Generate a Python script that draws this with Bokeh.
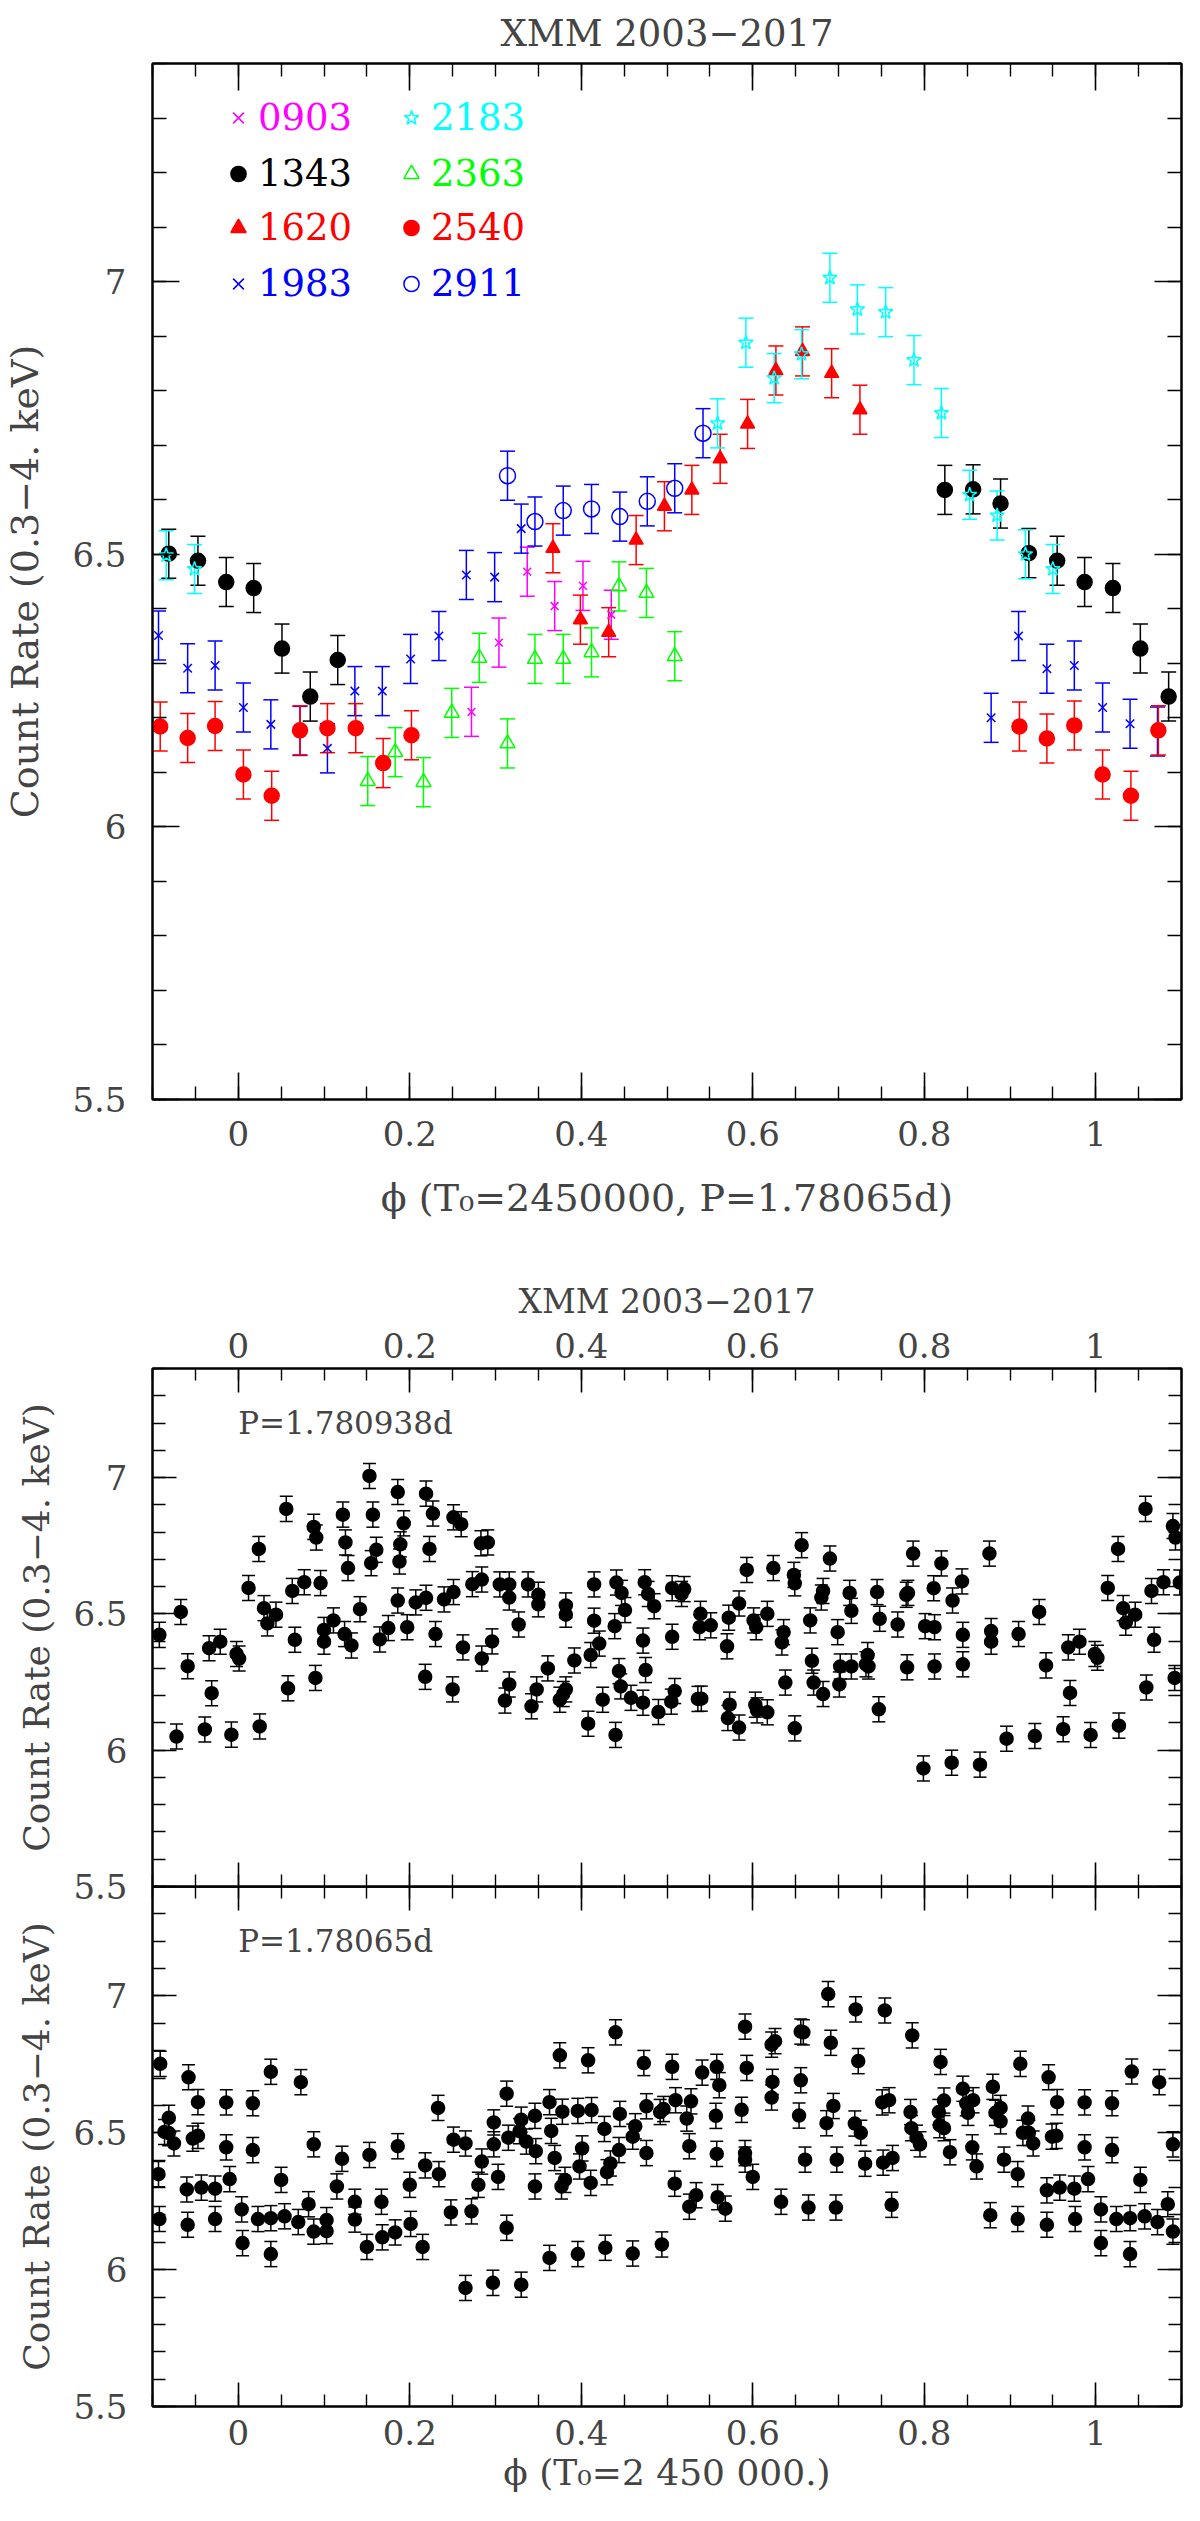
from bokeh.embed import file_html
from bokeh.layouts import column
from bokeh.models import (ColumnDataSource, CustomJSTickFormatter, Label, Legend,
                          LegendItem, LinearAxis, Range1d, SingleIntervalTicker,
                          TeeHead, Whisker)
from bokeh.plotting import figure
from bokeh.resources import INLINE

FONT = "DejaVu Serif"

# --- top panel: folded light curves per observation (P=1.78065d) -------------
OBS_0903_PHASE = [0.272, 0.304, 0.337, 0.369, 0.402, 0.435]
OBS_0903_RATE = [6.211, 6.338, 6.468, 6.405, 6.442, 6.389]

OBS_1343_PHASE = [-0.081, -0.047, -0.014, 0.018, 0.051, 0.084, 0.116, 0.824,
                  0.857, 0.889, 0.922, 0.955, 0.987, 1.020, 1.052, 1.085]
OBS_1343_RATE = [6.501, 6.488, 6.449, 6.438, 6.327, 6.239, 6.306, 6.618,
                 6.619, 6.593, 6.502, 6.488, 6.449, 6.438, 6.327, 6.239]

OBS_1620_PHASE = [0.367, 0.399, 0.432, 0.464, 0.497, 0.529, 0.562, 0.594,
                  0.627, 0.658, 0.692, 0.725]
OBS_1620_RATE = [6.511, 6.380, 6.357, 6.526, 6.588, 6.618, 6.675, 6.739,
                 6.837, 6.872, 6.832, 6.765]

OBS_1983_PHASE = [-0.093, -0.059, -0.027, 0.006, 0.038, 0.072, 0.104, 0.136,
                  0.168, 0.201, 0.234, 0.266, 0.299, 0.330, 0.878, 0.910,
                  0.943, 0.975, 1.008, 1.040, 1.072]
OBS_1983_RATE = [6.351, 6.291, 6.296, 6.219, 6.188, 6.176, 6.144, 6.249,
                 6.249, 6.308, 6.350, 6.462, 6.458, 6.547, 6.200, 6.350,
                 6.290, 6.296, 6.219, 6.189, 6.175]

OBS_2183_PHASE = [-0.084, -0.051, 0.559, 0.592, 0.625, 0.657, 0.690, 0.722,
                  0.755, 0.788, 0.820, 0.853, 0.885, 0.918, 0.950]
OBS_2183_RATE = [6.498, 6.473, 6.740, 6.888, 6.823, 6.867, 7.007, 6.949,
                 6.944, 6.856, 6.759, 6.609, 6.571, 6.500, 6.473]

OBS_2363_PHASE = [0.151, 0.183, 0.216, 0.249, 0.281, 0.314, 0.346, 0.379,
                  0.412, 0.444, 0.476, 0.509]
OBS_2363_RATE = [6.084, 6.137, 6.082, 6.209, 6.310, 6.153, 6.308, 6.308,
                 6.320, 6.441, 6.429, 6.313]

OBS_2540_PHASE = [-0.091, -0.059, -0.027, 0.006, 0.039, 0.072, 0.104, 0.137,
                  0.169, 0.202, 0.911, 0.943, 0.975, 1.008, 1.041, 1.073]
OBS_2540_RATE = [6.184, 6.163, 6.185, 6.096, 6.057, 6.177, 6.181, 6.181,
                 6.117, 6.168, 6.184, 6.162, 6.186, 6.096, 6.057, 6.177]

OBS_2911_PHASE = [0.314, 0.346, 0.379, 0.412, 0.445, 0.477, 0.509, 0.542]
OBS_2911_RATE = [6.644, 6.560, 6.580, 6.583, 6.569, 6.597, 6.621, 6.722]

TOP_ERR = 0.045

# --- lower panels: all observations folded with two trial periods ------------
FOLD_938_PHASE = [
    -0.092, -0.072, -0.067, -0.059, -0.039, -0.034, -0.031, -0.021, -0.008, -0.002,
    0.001, 0.012, 0.024, 0.025, 0.030, 0.034, 0.044, 0.056, 0.058, 0.063,
    0.066, 0.077, 0.088, 0.091, 0.090, 0.096, 0.100, 0.100, 0.111, 0.122,
    0.125, 0.124, 0.128, 0.132, 0.142, 0.153, 0.155, 0.157, 0.161, 0.165,
    0.175, 0.186, 0.189, 0.188, 0.186, 0.193, 0.197, 0.207, 0.218, 0.219,
    0.223, 0.227, 0.219, 0.230, 0.240, 0.251, 0.250, 0.251, 0.260, 0.262,
    0.273, 0.283, 0.284, 0.284, 0.291, 0.296, 0.305, 0.311, 0.316, 0.316,
    0.316, 0.327, 0.338, 0.342, 0.348, 0.350, 0.350, 0.361, 0.375, 0.379,
    0.382, 0.382, 0.382, 0.392, 0.408, 0.411, 0.415, 0.415, 0.421, 0.425,
    0.440, 0.439, 0.441, 0.444, 0.446, 0.447, 0.451, 0.458, 0.472, 0.472,
    0.474, 0.475, 0.478, 0.485, 0.490, 0.505, 0.506, 0.506, 0.509, 0.517,
    0.520, 0.536, 0.538, 0.539, 0.540, 0.551, 0.570, 0.571, 0.572, 0.573,
    0.584, 0.584, 0.593, 0.601, 0.604, 0.603, 0.605, 0.617, 0.617, 0.624,
    0.634, 0.636, 0.638, 0.648, 0.649, 0.649, 0.657, 0.667, 0.669, 0.671,
    0.680, 0.682, 0.682, 0.690, 0.699, 0.701, 0.702, 0.713, 0.715, 0.715,
    0.732, 0.734, 0.735, 0.745, 0.748, 0.747, 0.769, 0.779, 0.780, 0.781,
    0.787, 0.799, 0.801, 0.812, 0.812, 0.811, 0.820, 0.832, 0.833, 0.844,
    0.845, 0.845, 0.865, 0.876, 0.878, 0.878, 0.896, 0.910, 0.929, 0.934,
    0.942, 0.962, 0.968, 0.970, 0.981, 0.994, 0.999, 1.002, 1.014, 1.026,
    1.027, 1.032, 1.035, 1.046, 1.058, 1.059, 1.065, 1.068, 1.079, 1.090,
    1.093, 1.092, 1.098,
]
FOLD_938_RATE = [
    6.423, 6.050, 6.507, 6.308, 6.076, 6.374, 6.209, 6.398, 6.057, 6.353,
    6.336, 6.595, 6.738, 6.087, 6.521, 6.465, 6.497, 6.885, 6.227, 6.584,
    6.405, 6.616, 6.819, 6.780, 6.265, 6.613, 6.441, 6.398, 6.476, 6.864,
    6.762, 6.426, 6.668, 6.384, 6.517, 7.006, 6.686, 6.864, 6.735, 6.406,
    6.448, 6.947, 6.755, 6.692, 6.549, 6.832, 6.451, 6.542, 6.269, 6.941,
    6.738, 6.868, 6.559, 6.426, 6.553, 6.854, 6.223, 6.580, 6.829, 6.377,
    6.609, 6.759, 6.626, 6.336, 6.762, 6.399, 6.608, 6.182, 6.241, 6.608,
    6.560, 6.461, 6.608, 6.161, 6.223, 6.570, 6.535, 6.300, 6.185, 6.206,
    6.223, 6.531, 6.497, 6.329, 6.097, 6.349, 6.608, 6.475, 6.391, 6.185,
    6.056, 6.455, 6.615, 6.290, 6.234, 6.577, 6.514, 6.192, 6.402, 6.174,
    6.616, 6.294, 6.573, 6.528, 6.140, 6.178, 6.416, 6.594, 6.217, 6.573,
    6.591, 6.188, 6.451, 6.500, 6.189, 6.458, 6.381, 6.118, 6.486, 6.167,
    6.538, 6.083, 6.661, 6.476, 6.451, 6.167, 6.146, 6.139, 6.500, 6.668,
    6.395, 6.433, 6.248, 6.643, 6.612, 6.080, 6.752, 6.476, 6.328, 6.248,
    6.560, 6.584, 6.206, 6.703, 6.433, 6.241, 6.307, 6.577, 6.511, 6.307,
    6.315, 6.349, 6.307, 6.580, 6.482, 6.150, 6.461, 6.570, 6.304, 6.577,
    6.721, 5.933, 6.455, 6.451, 6.307, 6.594, 6.685, 5.954, 6.549, 6.619,
    6.423, 6.315, 5.947, 6.721, 6.437, 6.398, 6.042, 6.426, 6.052, 6.507,
    6.311, 6.077, 6.377, 6.210, 6.398, 6.056, 6.353, 6.339, 6.595, 6.738,
    6.090, 6.521, 6.468, 6.497, 6.885, 6.230, 6.584, 6.405, 6.616, 6.822,
    6.780, 6.265, 6.615,
]

FOLD_065_PHASE = [
    -0.091, -0.093, -0.092, -0.086, -0.081, -0.081, -0.075, -0.058, -0.060, -0.059,
    -0.053, -0.047, -0.047, -0.043, -0.027, -0.027, -0.014, -0.014, -0.010, 0.004,
    0.005, 0.017, 0.017, 0.023, 0.038, 0.038, 0.038, 0.050, 0.054, 0.073,
    0.070, 0.082, 0.088, 0.088, 0.103, 0.103, 0.115, 0.121, 0.136, 0.136,
    0.150, 0.153, 0.167, 0.168, 0.183, 0.186, 0.200, 0.201, 0.215, 0.218,
    0.233, 0.234, 0.248, 0.251, 0.265, 0.265, 0.272, 0.280, 0.284, 0.297,
    0.298, 0.298, 0.303, 0.313, 0.315, 0.313, 0.330, 0.330, 0.328, 0.336,
    0.346, 0.347, 0.346, 0.363, 0.363, 0.365, 0.369, 0.375, 0.378, 0.377,
    0.381, 0.396, 0.396, 0.398, 0.401, 0.408, 0.411, 0.412, 0.427, 0.428,
    0.430, 0.434, 0.440, 0.444, 0.445, 0.460, 0.460, 0.463, 0.473, 0.476,
    0.476, 0.492, 0.494, 0.496, 0.506, 0.509, 0.510, 0.523, 0.526, 0.526,
    0.528, 0.534, 0.541, 0.557, 0.558, 0.558, 0.559, 0.561, 0.568, 0.587,
    0.591, 0.593, 0.591, 0.591, 0.600, 0.623, 0.622, 0.626, 0.622, 0.633,
    0.654, 0.656, 0.656, 0.659, 0.661, 0.665, 0.688, 0.691, 0.694, 0.686,
    0.698, 0.697, 0.720, 0.719, 0.723, 0.726, 0.731, 0.754, 0.751, 0.759,
    0.752, 0.763, 0.762, 0.786, 0.784, 0.785, 0.791, 0.795, 0.819, 0.817,
    0.823, 0.818, 0.823, 0.830, 0.845, 0.849, 0.857, 0.851, 0.856, 0.861,
    0.877, 0.880, 0.883, 0.889, 0.889, 0.893, 0.909, 0.909, 0.912, 0.915,
    0.921, 0.922, 0.927, 0.943, 0.943, 0.945, 0.949, 0.954, 0.955, 0.958,
    0.975, 0.976, 0.987, 0.987, 0.991, 1.006, 1.006, 1.019, 1.019, 1.024,
    1.040, 1.040, 1.042, 1.052, 1.057, 1.074, 1.072, 1.084, 1.090, 1.090,
]
FOLD_065_RATE = [
    6.752, 6.349, 6.185, 6.503, 6.555, 6.499, 6.461, 6.703, 6.293, 6.164,
    6.479, 6.489, 6.612, 6.300, 6.296, 6.185, 6.611, 6.447, 6.331, 6.220,
    6.097, 6.608, 6.437, 6.185, 6.723, 6.188, 6.057, 6.328, 6.195, 6.685,
    6.174, 6.239, 6.458, 6.139, 6.141, 6.181, 6.304, 6.405, 6.248, 6.183,
    6.083, 6.419, 6.248, 6.118, 6.136, 6.451, 6.310, 6.167, 6.083, 6.381,
    6.591, 6.349, 6.209, 6.475, 5.933, 6.461, 6.213, 6.310, 6.395, 5.952,
    6.538, 6.458, 6.339, 6.643, 6.482, 6.153, 6.548, 5.945, 6.506, 6.468,
    6.562, 6.433, 6.304, 6.043, 6.612, 6.507, 6.408, 6.783, 6.577, 6.304,
    6.328, 6.057, 6.580, 6.377, 6.443, 6.765, 6.317, 6.583, 6.514, 6.080,
    6.356, 6.388, 6.867, 6.437, 6.569, 6.486, 6.059, 6.524, 6.755, 6.426,
    6.597, 6.576, 6.092, 6.587, 6.741, 6.314, 6.619, 6.552, 6.451, 6.230,
    6.615, 6.272, 6.720, 6.562, 6.741, 6.423, 6.265, 6.674, 6.223, 6.584,
    6.888, 6.737, 6.426, 6.402, 6.339, 6.686, 6.822, 6.835, 6.629, 6.248,
    6.563, 6.692, 6.870, 6.867, 6.402, 6.227, 7.007, 6.829, 6.598, 6.535,
    6.402, 6.227, 6.951, 6.534, 6.762, 6.500, 6.387, 6.947, 6.611, 6.619,
    6.391, 6.408, 6.237, 6.856, 6.576, 6.517, 6.482, 6.458, 6.759, 6.576,
    6.618, 6.528, 6.517, 6.429, 6.661, 6.608, 6.619, 6.573, 6.447, 6.377,
    6.199, 6.668, 6.573, 6.591, 6.542, 6.402, 6.349, 6.185, 6.752, 6.500,
    6.552, 6.500, 6.461, 6.290, 6.164, 6.703, 6.486, 6.489, 6.612, 6.300,
    6.296, 6.185, 6.611, 6.447, 6.331, 6.220, 6.097, 6.608, 6.437, 6.185,
    6.188, 6.057, 6.724, 6.328, 6.195, 6.685, 6.174, 6.239, 6.458, 6.139,
]
FOLD_ERR = 0.046

PHASE_RANGE = (-0.1, 1.1)
RATE_RANGE = (5.5, 7.4)
Y_LABEL = "Count Rate (0.3\u22124. keV)"
TITLE = "XMM 2003\u22122017"

LABEL_FMT = "return String(Math.round(tick * 10) / 10);"


def dress_axis(ax, is_x, major_len, minor_len, labels, size="34px"):
    if is_x:
        ax.ticker = SingleIntervalTicker(interval=0.2, num_minor_ticks=4)
    else:
        ax.ticker = SingleIntervalTicker(interval=0.5, num_minor_ticks=5)
    ax.major_tick_in = major_len
    ax.major_tick_out = 0
    ax.minor_tick_in = minor_len
    ax.minor_tick_out = 0
    ax.axis_line_width = 2
    ax.major_tick_line_width = 1.6
    ax.minor_tick_line_width = 1.4
    ax.major_label_text_font = FONT
    ax.axis_label_text_font = FONT
    ax.axis_label_text_font_style = "normal"
    if labels:
        ax.formatter = CustomJSTickFormatter(code=LABEL_FMT)
        ax.major_label_text_font_size = size
    else:
        ax.formatter = CustomJSTickFormatter(code="return '';")
        ax.major_label_text_font_size = "0px"
        ax.major_label_standoff = 0


def new_panel(labelled, major, minor, **kw):
    """A boxed panel with inward ticks on all four sides; returns (fig, axes)."""
    p = figure(x_range=Range1d(*PHASE_RANGE), y_range=Range1d(*RATE_RANGE),
               x_axis_location=None, y_axis_location=None,
               output_backend="svg", toolbar_location=None, **kw)
    p.xgrid.visible = False
    p.ygrid.visible = False
    p.outline_line_color = "black"
    p.outline_line_width = 2
    axes = {}
    for side in ("below", "above", "left", "right"):
        ax = LinearAxis()
        is_x = side in ("below", "above")
        dress_axis(ax, is_x, major, minor if is_x else minor + 1, side in labelled)
        p.add_layout(ax, side)
        axes[side] = ax
    return p, axes


def error_points(p, xs, ys, err, color, marker, size, filled, cap, lw=1.5):
    src = ColumnDataSource(dict(x=xs, y=ys, lo=[v - err for v in ys],
                                hi=[v + err for v in ys]))
    p.add_layout(Whisker(source=src, base="x", lower="lo", upper="hi",
                         line_color=color, line_width=lw,
                         lower_head=TeeHead(size=cap, line_color=color, line_width=lw),
                         upper_head=TeeHead(size=cap, line_color=color, line_width=lw)))
    return p.scatter("x", "y", source=src, marker=marker, size=size,
                     line_color=color, line_width=lw,
                     fill_color=color if filled else None)


def set_title(p, size, standoff):
    p.title.text = TITLE
    p.title.text_font = FONT
    p.title.text_font_size = size
    p.title.text_font_style = "normal"
    p.title.align = "center"
    p.title.standoff = standoff


# ---------------------------------------------------------------- top panel
top, tax = new_panel(("below", "left"), 27, 13, width=1190, height=1242,
                     min_border_left=149, min_border_right=2,
                     min_border_top=61, min_border_bottom=143)
set_title(top, "37px", 18)
tax["below"].axis_label = "\u03d5 (T\u2080=2450000, P=1.78065d)"
tax["below"].axis_label_text_font_size = "38px"
tax["below"].major_label_standoff = 21
tax["below"].axis_label_standoff = 27
tax["left"].axis_label = Y_LABEL
tax["left"].axis_label_text_font_size = "38px"
tax["left"].major_label_standoff = 26
tax["left"].axis_label_standoff = 22

series = [
    ("0903", OBS_0903_PHASE, OBS_0903_RATE, "#ff00ff", "x", 11, False),
    ("1343", OBS_1343_PHASE, OBS_1343_RATE, "black", "circle", 15, True),
    ("1620", OBS_1620_PHASE, OBS_1620_RATE, "#ff0000", "triangle", 14, True),
    ("1983", OBS_1983_PHASE, OBS_1983_RATE, "#0000ff", "x", 12, False),
    ("2183", OBS_2183_PHASE, OBS_2183_RATE, "#00ffff", "star", 15, False),
    ("2363", OBS_2363_PHASE, OBS_2363_RATE, "#00ff00", "triangle", 15, False),
    ("2540", OBS_2540_PHASE, OBS_2540_RATE, "#ff0000", "circle", 15, True),
    ("2911", OBS_2911_PHASE, OBS_2911_RATE, "#0000ff", "circle", 16, False),
]
# legend slots: bottom-left corner in frame pixels, two columns of four
slots = [(67, 960), (67, 904), (67, 850), (67, 794),
         (240, 960), (240, 904), (240, 850), (240, 794)]
for (name, xs, ys, color, marker, size, filled), loc in zip(series, slots):
    r = error_points(top, xs, ys, TOP_ERR, color, marker, size, filled, 15)
    top.add_layout(Legend(items=[LegendItem(label=name, renderers=[r])],
                          location=loc, label_text_color=color,
                          label_text_font=FONT, label_text_font_size="37px",
                          glyph_width=38, glyph_height=43, label_standoff=1,
                          padding=0, margin=0, border_line_color=None,
                          background_fill_color=None))

# ------------------------------------------------- middle panel (P=1.780938d)
mid, max_ = new_panel(("above", "left"), 24, 12, width=1190, height=664,
                      min_border_left=143, min_border_right=9,
                      min_border_top=126, min_border_bottom=20)
set_title(mid, "33px", 18)
max_["above"].major_label_standoff = 11
max_["left"].axis_label = Y_LABEL
max_["left"].axis_label_text_font_size = "36px"
max_["left"].major_label_standoff = 25
max_["left"].axis_label_standoff = 13
error_points(mid, FOLD_938_PHASE, FOLD_938_RATE, FOLD_ERR, "black", "circle", 13, True, 13)
mid.add_layout(Label(x=0, y=7.2, text="P=1.780938d", text_font=FONT,
                     text_font_size="31px", text_baseline="alphabetic"))

# ------------------------------------------------- bottom panel (P=1.78065d)
bot, bax = new_panel(("below", "left"), 24, 12, width=1190, height=619,
                     margin=(-20, 0, 0, 0),
                     min_border_left=143, min_border_right=9,
                     min_border_top=0, min_border_bottom=99)
bot.background_fill_color = None
bot.border_fill_color = None
bax["below"].axis_label = "\u03d5 (T\u2080=2 450 000.)"
bax["below"].axis_label_text_font_size = "36px"
bax["below"].major_label_standoff = 13
bax["below"].axis_label_standoff = 4
bax["left"].axis_label = Y_LABEL
bax["left"].axis_label_text_font_size = "36px"
bax["left"].major_label_standoff = 25
bax["left"].axis_label_standoff = 13
error_points(bot, FOLD_065_PHASE, FOLD_065_RATE, FOLD_ERR, "black", "circle", 13, True, 13)
bot.add_layout(Label(x=0, y=7.2, text="P=1.78065d", text_font=FONT,
                     text_font_size="31px", text_baseline="alphabetic"))

page = column(top, mid, bot, spacing=0)
open("out.html", "w").write(file_html(page, INLINE))
